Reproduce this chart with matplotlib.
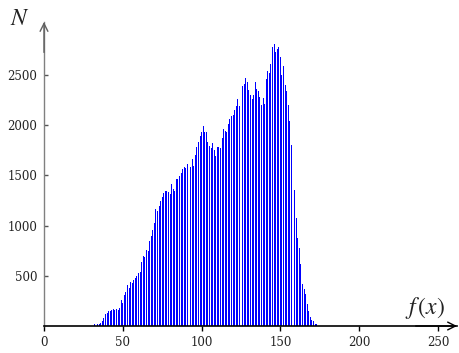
import matplotlib
matplotlib.use("Agg")
import matplotlib.pyplot as plt

# histogram: intensity value f(x) -> count N
fx_start = 32
counts = [
    15, 15, 20, 20, 30, 50, 80, 115, 130, 145,          # 32-41
    150, 160, 165, 160, 165, 160, 180, 255, 230, 305,   # 42-51
    340, 405, 380, 440, 430, 455, 480, 500, 525, 540,   # 52-61
    635, 700, 690, 760, 750, 845, 895, 960, 1025, 1165, # 62-71
    1150, 1200, 1250, 1285, 1320, 1345, 1345, 1330, 1310, 1415,  # 72-81
    1360, 1345, 1465, 1465, 1490, 1525, 1560, 1585, 1570, 1615,  # 82-91
    1515, 1585, 1665, 1590, 1705, 1780, 1835, 1895, 1930, 1990,  # 92-101
    1930, 1930, 1830, 1795, 1770, 1825, 1750, 1695, 1785, 1780,  # 102-111
    1775, 1875, 1965, 1940, 1930, 2010, 2065, 2090, 2105, 2150,  # 112-121
    2190, 2260, 2195, 2365, 2390, 2415, 2475, 2430, 2355, 2300,  # 122-131
    2265, 2305, 2430, 2365, 2340, 2280, 2200, 2270, 2210, 2465,  # 132-141
    2540, 2520, 2605, 2780, 2810, 2730, 2755, 2780, 2680, 2500,  # 142-151
    2590, 2400, 2340, 2205, 2045, 1805, 1620, 1355, 1080, 880,   # 152-161
    775, 615, 415, 365, 320, 215, 145, 90, 60, 45,               # 162-171
    20, 15,                                                       # 172-173
]
fx = list(range(fx_start, fx_start + len(counts)))

xticks = [0, 50, 100, 150, 200, 250]
yticks = [500, 1000, 1500, 2000, 2500]

plt.rcParams['mathtext.fontset'] = 'stix'

W, H = 459, 353
fig = plt.figure(figsize=(W / 100, H / 100), dpi=100)
left_px, right_px, bottom_px, top_px = 44, 457, 326, 22
ax = fig.add_axes([left_px / W, (H - bottom_px) / H,
                   (right_px - left_px) / W, (bottom_px - top_px) / H])

ax.bar(fx, counts, width=0.62, color='#0000ff', linewidth=0, align='center')

xscale = 394 / 250.0
yscale = 251 / 2500.0
ax.set_xlim(0, (right_px - left_px) / xscale)
ax.set_ylim(0, (bottom_px - top_px) / yscale)

for s in ['top', 'right']:
    ax.spines[s].set_visible(False)
ax.spines['left'].set_color('#808080')
ax.spines['left'].set_linewidth(1.0)
ax.spines['bottom'].set_color('black')
ax.spines['bottom'].set_linewidth(1.2)

ax.set_xticks(xticks)
ax.set_yticks(yticks)
ax.set_xticklabels([str(t) for t in xticks], family='DejaVu Serif', fontsize=8.5, color='#222222')
ax.set_yticklabels([str(t) for t in yticks], family='DejaVu Serif', fontsize=8.5, color='#222222')
ax.tick_params(axis='x', direction='out', length=3.5, width=1, color='black', pad=4)
ax.tick_params(axis='y', direction='in', length=3, width=1, color='#555555', pad=5)

# arrow heads
ax.annotate('', xy=(0, 1.0), xytext=(0, 0.9), xycoords='axes fraction',
            arrowprops=dict(arrowstyle='->', color='#606060', lw=1.0, mutation_scale=14,
                            shrinkA=0, shrinkB=0))
ax.annotate('', xy=(1.0, 0), xytext=(0.9, 0), xycoords='axes fraction',
            arrowprops=dict(arrowstyle='->', color='black', lw=1.0, mutation_scale=14,
                            shrinkA=0, shrinkB=0))

fig.text(20 / W, 1 - 18 / H, r'$N$', fontsize=17, ha='center', va='center', color='#222222')
fig.text(425 / W, 1 - 308 / H, r'$f\,(x)$', fontsize=17, ha='center', va='center', color='#222222')

fig.savefig('out.png', dpi=100)
